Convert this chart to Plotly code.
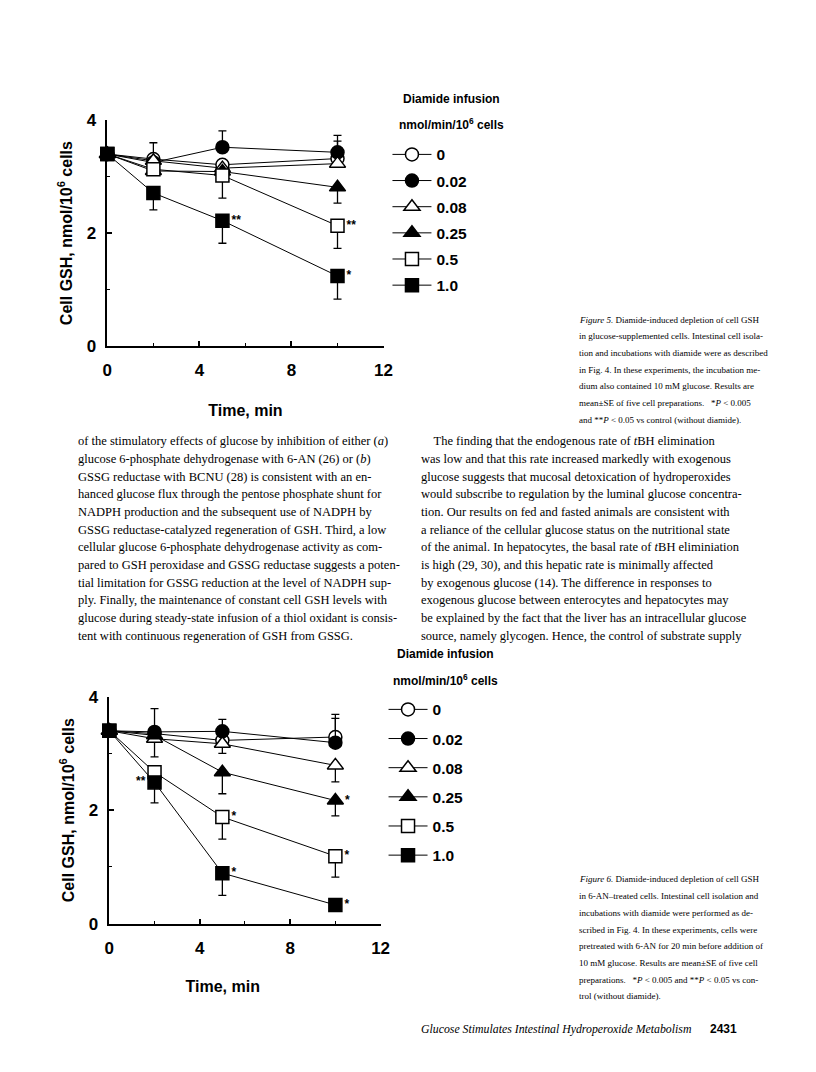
import plotly.graph_objects as go

W, H = 816, 1072

# ---------------- data ----------------
times = [0, 2, 5, 10]
doses = ["0", "0.02", "0.08", "0.25", "0.5", "1.0"]

# Figure 5 (glucose-supplemented cells)
f5_gsh = {
    "0":    [3.40, 3.31, 3.21, 3.32],
    "0.02": [3.40, 3.25, 3.52, 3.43],
    "0.08": [3.40, 3.28, 3.15, 3.23],
    "0.25": [3.40, 3.10, 3.09, 2.81],
    "0.5":  [3.40, 3.13, 3.02, 2.13],
    "1.0":  [3.40, 2.71, 2.22, 1.24],
}
f5_up = {
    "0":    [0, 0.29, 0, 0.31],
    "0.02": [0, 0, 0.29, 0.30],
    "0.08": [0, 0, 0, 0],
    "0.25": [0, 0, 0, 0],
    "0.5":  [0, 0, 0, 0],
    "1.0":  [0, 0, 0, 0],
}
f5_down = {
    "0":    [0, 0, 0, 0],
    "0.02": [0, 0, 0, 0],
    "0.08": [0, 0, 0, 0],
    "0.25": [0, 0, 0, 0.28],
    "0.5":  [0, 0, 0.40, 0.40],
    "1.0":  [0, 0.30, 0.40, 0.41],
}
f5_sig = {
    "0": ["", "", "", ""], "0.02": ["", "", "", ""], "0.08": ["", "", "", ""],
    "0.25": ["", "", "", ""], "0.5": ["", "", "", "**"], "1.0": ["", "", "**", "*"],
}

# Figure 6 (6-AN-treated cells)
f6_gsh = {
    "0":    [3.40, 3.35, 3.23, 3.29],
    "0.02": [3.40, 3.38, 3.39, 3.19],
    "0.08": [3.40, 3.26, 3.17, 2.79],
    "0.25": [3.40, 3.32, 2.67, 2.17],
    "0.5":  [3.40, 2.67, 1.88, 1.19],
    "1.0":  [3.40, 2.49, 0.89, 0.33],
}
f6_up = {
    "0":    [0, 0, 0, 0.40],
    "0.02": [0, 0.41, 0.21, 0.43],
    "0.08": [0, 0, 0, 0],
    "0.25": [0, 0, 0, 0],
    "0.5":  [0, 0, 0, 0],
    "1.0":  [0, 0, 0, 0],
}
f6_down = {
    "0":    [0, 0, 0, 0],
    "0.02": [0, 0, 0, 0],
    "0.08": [0, 0.32, 0.17, 0.29],
    "0.25": [0, 0, 0.38, 0.27],
    "0.5":  [0, 0, 0.39, 0.37],
    "1.0":  [0, 0.36, 0.39, 0],
}
f6_sig = {
    "0": ["", "", "", ""], "0.02": ["", "", "", ""], "0.08": ["", "", "", ""],
    "0.25": ["", "", "", "*"], "0.5": ["", "", "*", "*"], "1.0": ["", "**", "*", "*"],
}
f6_sigpos = {
    "1.0": ["middle right", "middle left", "middle right", "middle right"],
}

x_ticks = [0, 4, 8, 12]
y_ticks = [0, 2, 4]

# ---------------- text ----------------
legend_title_1 = "Diamide infusion"
legend_title_2 = "nmol/min/10<sup>6</sup> cells"
y_title = "Cell GSH, nmol/10<sup>6</sup> cells"
x_title = "Time, min"

cap5 = [
    "<i>Figure 5.</i> Diamide-induced depletion of cell GSH",
    "in glucose-supplemented cells. Intestinal cell isola-",
    "tion and incubations with diamide were as described",
    "in Fig. 4. In these experiments, the incubation me-",
    "dium also contained 10 mM glucose. Results are",
    "mean±SE of five cell preparations. &nbsp;&nbsp;*<i>P</i> &lt; 0.005",
    "and **<i>P</i> &lt; 0.05 vs control (without diamide).",
]
cap6 = [
    "<i>Figure 6.</i> Diamide-induced depletion of cell GSH",
    "in 6-AN–treated cells. Intestinal cell isolation and",
    "incubations with diamide were performed as de-",
    "scribed in Fig. 4. In these experiments, cells were",
    "pretreated with 6-AN for 20 min before addition of",
    "10 mM glucose. Results are mean±SE of five cell",
    "preparations. &nbsp;&nbsp;*<i>P</i> &lt; 0.005 and **<i>P</i> &lt; 0.05 vs con-",
    "trol (without diamide).",
]
body_left = [
    "of the stimulatory effects of glucose by inhibition of either (<i>a</i>)",
    "glucose 6-phosphate dehydrogenase with 6-AN (26) or (<i>b</i>)",
    "GSSG reductase with BCNU (28) is consistent with an en-",
    "hanced glucose flux through the pentose phosphate shunt for",
    "NADPH production and the subsequent use of NADPH by",
    "GSSG reductase-catalyzed regeneration of GSH. Third, a low",
    "cellular glucose 6-phosphate dehydrogenase activity as com-",
    "pared to GSH peroxidase and GSSG reductase suggests a poten-",
    "tial limitation for GSSG reduction at the level of NADPH sup-",
    "ply. Finally, the maintenance of constant cell GSH levels with",
    "glucose during steady-state infusion of a thiol oxidant is consis-",
    "tent with continuous regeneration of GSH from GSSG.",
]
body_right = [
    "&nbsp;&nbsp;&nbsp;&nbsp;The finding that the endogenous rate of <i>t</i>BH elimination",
    "was low and that this rate increased markedly with exogenous",
    "glucose suggests that mucosal detoxication of hydroperoxides",
    "would subscribe to regulation by the luminal glucose concentra-",
    "tion. Our results on fed and fasted animals are consistent with",
    "a reliance of the cellular glucose status on the nutritional state",
    "of the animal. In hepatocytes, the basal rate of <i>t</i>BH eliminiation",
    "is high (29, 30), and this hepatic rate is minimally affected",
    "by exogenous glucose (14). The difference in responses to",
    "exogenous glucose between enterocytes and hepatocytes may",
    "be explained by the fact that the liver has an intracellular glucose",
    "source, namely glycogen. Hence, the control of substrate supply",
]
footer_text = "<i>Glucose Stimulates Intestinal Hydroperoxide Metabolism</i>"
page_no = "2431"

# ---------------- styling ----------------
SANS = "Liberation Sans"
SERIF = "Liberation Serif"
symbols = {
    "0": ("circle", "white", 13), "0.02": ("circle", "black", 13),
    "0.08": ("triangle-up", "white", 14), "0.25": ("triangle-up", "black", 14),
    "0.5": ("square", "white", 13), "1.0": ("square", "black", 13),
}

def px_x(p):
    return p / W

def px_y(p):
    return 1 - p / H

fig = go.Figure()

def add_chart(gsh, up, down, sig, sigpos, xa, ya, leg):
    for d in doses:
        sym, fill, size = symbols[d]
        pos = sigpos.get(d, ["middle right"] * 4)
        fig.add_trace(go.Scatter(
            x=times, y=gsh[d], name=d, xaxis=xa, yaxis=ya,
            mode="lines+markers+text",
            text=sig[d], textposition=pos,
            textfont=dict(family=SANS, size=12, color="black", weight="bold"),
            line=dict(color="black", width=1),
            marker=dict(symbol=sym, size=size, color=fill,
                        line=dict(color="black", width=1.5)),
            error_y=dict(type="data", symmetric=False, array=up[d], arrayminus=down[d],
                         color="black", thickness=1.3, width=4),
            cliponaxis=False, legend=leg, legendgroup=leg + d,
        ))

add_chart(f5_gsh, f5_up, f5_down, f5_sig, {}, "x", "y", "legend")
add_chart(f6_gsh, f6_up, f6_down, f6_sig, f6_sigpos, "x2", "y2", "legend2")

title_font = dict(family=SANS, size=16, color="black", weight="bold")
axis_common = dict(
    showline=True, linecolor="black", linewidth=1.5, mirror=False,
    ticks="inside", ticklen=5, tickwidth=1.5, tickcolor="black",
    showgrid=False, zeroline=False,
    tickfont=dict(family=SANS, size=17, color="black", weight="bold"),
)
xa = dict(axis_common, range=[0, 12], tickvals=x_ticks,
          minor=dict(tickvals=[2, 6, 10], ticks="inside", ticklen=3, tickwidth=1.2, tickcolor="black"),
          ticklabelstandoff=8)
ya = dict(axis_common, range=[0, 4], tickvals=y_ticks,
          minor=dict(tickvals=[1, 3], ticks="inside", ticklen=3, tickwidth=1.2, tickcolor="black"),
          ticklabelstandoff=6,
          title=dict(text=y_title, font=title_font, standoff=10))

legend_common = dict(
    xanchor="left", yanchor="top", bgcolor="rgba(0,0,0,0)",
    font=dict(family=SANS, size=15.5, color="black", weight="bold"),
    itemwidth=39, itemclick=False, itemdoubleclick=False,
)

fig.update_layout(
    width=W, height=H, margin=dict(l=0, r=0, t=0, b=0),
    paper_bgcolor="white", plot_bgcolor="white", showlegend=True,
    xaxis=dict(xa, domain=[px_x(96), px_x(377)], anchor="y",
               title=dict(text=x_title, font=title_font, standoff=26)),
    yaxis=dict(ya, domain=[px_y(335), px_y(105)], anchor="x"),
    xaxis2=dict(xa, domain=[px_x(98), px_x(374)], anchor="y2",
                title=dict(text=x_title + "&nbsp;" * 10, font=title_font, standoff=24)),
    yaxis2=dict(ya, domain=[px_y(923), px_y(692)], anchor="x2"),
    legend=dict(legend_common, x=px_x(381), y=px_y(123), tracegroupgap=3),
    legend2=dict(legend_common, x=px_x(377), y=px_y(688), tracegroupgap=6),
)

anns = []
def add_lines(lines, x0, y0, dy, size, family=SERIF, weight="normal", anchor="left"):
    for i, t in enumerate(lines):
        anns.append(dict(text=t, x=px_x(x0), y=px_y(y0 + i * dy), xref="paper", yref="paper",
                         xanchor=anchor, yanchor="middle", showarrow=False,
                         font=dict(family=family, size=size, color="black", weight=weight)))

# legend titles
add_lines([legend_title_1, legend_title_2], 446, 83, 26, 12, SANS, "bold", "center")
add_lines([legend_title_1, legend_title_2], 440, 649, 26, 12, SANS, "bold", "center")
# captions
add_lines(cap5, 574, 308, 17, 9)
add_lines(cap6, 574, 878, 17, 9)
# body text
add_lines(body_left, 64, 432, 18, 12.5)
add_lines(body_right, 413, 432, 18, 12.5)
# footer
add_lines([footer_text], 413, 1030, 0, 11.8)
add_lines([page_no], 707, 1030, 0, 12, SANS, "bold")
fig.update_layout(annotations=anns)

fig.write_html("out.html")
